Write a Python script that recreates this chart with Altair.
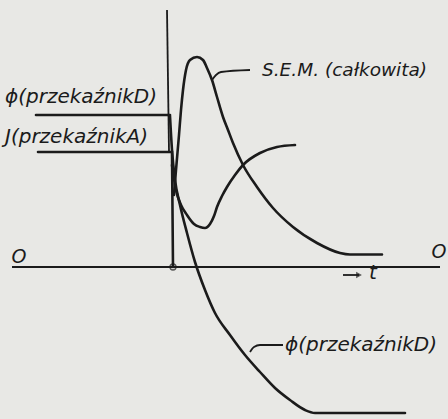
import altair as alt
import pandas as pd

# Time (t) and value (v) readings for each curve, origin at the switching instant.
sem_t = [0.1, 0.3, 0.6, 0.8, 1.0, 1.3, 1.7, 2.4, 3.0, 3.4, 3.9, 4.4, 5.0, 5.5, 6.0, 7.0, 8.4, 10.0, 12.0, 14.4, 16.7, 17.7, 20.9]
sem_v = [7.2, 9.7, 13.2, 15.7, 17.7, 19.7, 20.7, 21.0, 20.7, 19.9, 18.7, 17.0, 15.0, 13.7, 12.4, 10.2, 8.0, 5.9, 4.0, 2.4, 1.4, 1.25, 1.25]

dip_t = [-0.1, 0.3, 0.8, 1.4, 2.1, 2.7, 3.2, 3.7, 4.1, 4.4, 4.9, 5.4, 6.2, 7.0, 8.7, 10.4, 12.2]
dip_v = [10.2, 7.7, 6.2, 5.2, 4.3, 4.0, 3.9, 4.3, 5.1, 6.0, 7.1, 8.0, 9.2, 10.2, 11.4, 12.0, 12.2]

phid_t = [-0.3, -0.1, 0.2, 0.7, 1.4, 2.2, 3.2, 4.2, 5.7, 7.2, 8.7, 10.2, 11.7, 13.2, 14.2, 15.5, 23.2]
phid_v = [15.1, 11.7, 8.7, 6.2, 3.4, 0.5, -2.3, -4.6, -6.8, -8.8, -10.5, -12.1, -13.3, -14.3, -14.6, -14.6, -14.6]

# Relay A current drops to zero at t = 0
ja_t = [-13.5, -0.1, 0.0]
ja_v = [11.5, 11.5, 0.0]

# Initial flux level of relay D
phi0_t = [-13.7, -0.3]
phi0_v = [15.2, 15.2]

# Axes and leader lines
yaxis_t = [-0.6, -0.4]
yaxis_v = [25.7, 11.5]
xaxis_t = [-16.1, 26.7]
xaxis_v = [0.0, 0.0]
lead_sem_t = [3.9, 4.3, 4.8, 7.7]
lead_sem_v = [18.7, 19.2, 19.5, 19.7]
lead_phi_t = [7.7, 8.1, 8.7, 11.0]
lead_phi_v = [-8.5, -8.0, -7.8, -7.8]
arrow_t = [17.0, 18.6]
arrow_v = [-0.8, -0.8]

# Curve names: the S.E.M. label, and the relay labels
sem_label = ["S.E.M. (całkowita)"]
sem_label_t = [8.9]
sem_label_v = [19.7]
relay_labels = ["ϕ(przekaźnikD)", "ϕ(przekaźnikD)", "J(przekaźnikA)", "t"]
relay_label_t = [11.2, -16.8, -16.8, 19.6]
relay_label_v = [-7.8, 17.0, 13.0, -0.6]
zero_labels = ["O", "O"]
zero_t = [-15.4, 26.6]
zero_v = [1.0, 1.5]


def series(name, ts, vs):
    return pd.DataFrame({"name": name, "t": ts, "v": vs, "i": range(len(ts))})


curves = pd.concat([
    series("sem", sem_t, sem_v),
    series("dip", dip_t, dip_v),
    series("phid", phid_t, phid_v),
    series("ja", ja_t, ja_v),
    series("phi0", phi0_t, phi0_v),
])
guides = pd.concat([
    series("yaxis", yaxis_t, yaxis_v),
    series("xaxis", xaxis_t, xaxis_v),
    series("lead_sem", lead_sem_t, lead_sem_v),
    series("lead_phi", lead_phi_t, lead_phi_v),
    series("arrow", arrow_t, arrow_v),
])

xs = alt.Scale(domain=[-17.3, 27.5], nice=False, zero=False)
ys = alt.Scale(domain=[-15.2, 26.7], nice=False, zero=False)
X = alt.X("t:Q", scale=xs, axis=None)
Y = alt.Y("v:Q", scale=ys, axis=None)

ink = "#1b1b1b"
font = "DejaVu Sans"

curve_layer = alt.Chart(curves).mark_line(
    color=ink, strokeWidth=2.6, interpolate="monotone", strokeCap="round"
).encode(x=X, y=Y, detail="name:N", order="i:Q")

guide_layer = alt.Chart(guides).mark_line(
    color=ink, strokeWidth=1.8, interpolate="monotone"
).encode(x=X, y=Y, detail="name:N", order="i:Q")

origin = alt.Chart(pd.DataFrame({"t": [0.0], "v": [0.0]})).mark_point(
    shape="circle", filled=False, size=35, color=ink, strokeWidth=1.5
).encode(x=X, y=Y)

arrow_head = alt.Chart(pd.DataFrame({"t": [arrow_t[-1]], "v": [arrow_v[-1]]})).mark_point(
    shape="triangle-right", filled=True, size=45, color=ink
).encode(x=X, y=Y)

sem_text = alt.Chart(pd.DataFrame({"label": sem_label, "t": sem_label_t, "v": sem_label_v})).mark_text(
    align="left", baseline="middle", font=font, fontStyle="italic", fontSize=18.5, color=ink
).encode(x=X, y=Y, text="label:N")

relay_text = alt.Chart(pd.DataFrame({"label": relay_labels, "t": relay_label_t, "v": relay_label_v})).mark_text(
    align="left", baseline="middle", font=font, fontStyle="italic", fontSize=20, color=ink
).encode(x=X, y=Y, text="label:N")

zero_layer = alt.Chart(pd.DataFrame({"label": zero_labels, "t": zero_t, "v": zero_v})).mark_text(
    align="center", baseline="middle", font=font, fontStyle="italic", fontSize=19, color=ink
).encode(x=X, y=Y, text="label:N")

chart = alt.layer(
    guide_layer, curve_layer, origin, arrow_head, sem_text, relay_text, zero_layer
).properties(
    width=448, height=419, autosize=alt.AutoSizeParams(type="none"), padding=0,
    background="#e8e8e5"
).configure_view(stroke=None)

chart.save("out.html", embed_options={"renderer": "svg", "actions": False})
